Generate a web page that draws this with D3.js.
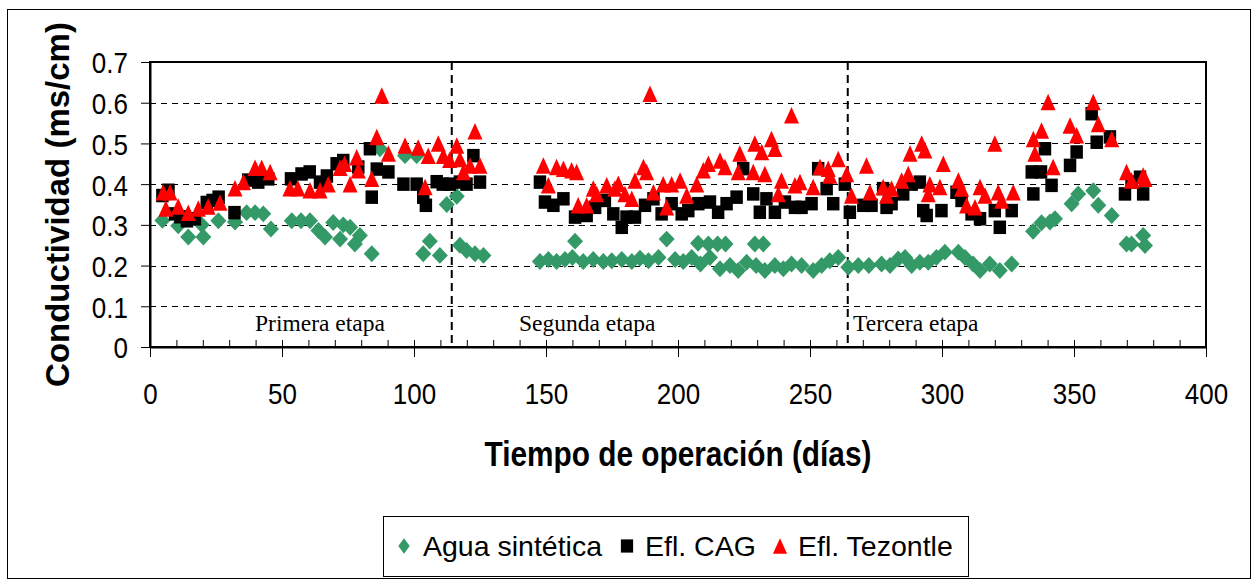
<!DOCTYPE html>
<html>
<head>
<meta charset="utf-8" />
<title>Conductividad vs tiempo de operación</title>
<script src="https://d3js.org/d3.v7.min.js"></script>
<style>
  body { margin: 0; background: #fff; }
  svg { display: block; font-family: Arial, "Liberation Sans", sans-serif; }
</style>
</head>
<body>
<svg width="1254" height="580"></svg>
<script>
// ---- data ----
const aguaDays = [4.7, 10.7, 14.5, 19.6, 20.2, 25.9, 32.2, 36.6, 39.8, 42.9, 45.8, 53.7, 57.2, 60.6, 63.8, 66.3, 69.4, 72, 73.2, 75.8, 77.6, 79.5, 84, 87.1, 96.6, 101, 103.5, 106, 109.8, 112.4, 116.2, 117.4, 119.9, 123.1, 126.3,
  147.7, 150.9, 154, 157.2, 160, 161, 164.1, 167.9, 171.7, 174.9, 178.7, 182.5, 185.6, 188.8, 192.6, 195.7, 198.9, 202, 205.2, 207.6, 208.5, 211.5, 212.1, 215, 215.9, 218, 219.7, 222.8, 226, 229.1, 229.6, 232.3, 232.9, 236.7, 239.9, 243, 246.8, 251.2, 254.4, 257.5, 260.7, 264.5,
  268.3, 272.3, 277.1, 280.3, 283.4, 286, 288.5, 291.6, 294.8, 297.9, 301.1, 306.2, 308.7, 311.8, 314.4, 318.1, 321.9, 326.4, 334.5, 337.7, 340.9, 342.8, 349.1, 351.6, 357.3, 359.2, 364.3, 369.9, 371.8, 376.2, 376.9];
const aguaValues = [0.311, 0.298, 0.27, 0.30, 0.27, 0.31, 0.307, 0.33, 0.33, 0.327, 0.29, 0.31, 0.31, 0.31, 0.286, 0.27, 0.306, 0.265, 0.30, 0.294, 0.253, 0.274, 0.229, 0.487, 0.47, 0.47, 0.229, 0.26, 0.225, 0.35, 0.37, 0.25, 0.237, 0.229, 0.225,
  0.21, 0.215, 0.21, 0.215, 0.22, 0.26, 0.21, 0.215, 0.21, 0.212, 0.215, 0.21, 0.218, 0.212, 0.22, 0.265, 0.215, 0.21, 0.22, 0.255, 0.204, 0.253, 0.22, 0.253, 0.192, 0.253, 0.20, 0.188, 0.208, 0.253, 0.20, 0.253, 0.188, 0.20, 0.192, 0.204, 0.20, 0.188, 0.20, 0.212, 0.22, 0.196,
  0.20, 0.20, 0.204, 0.20, 0.216, 0.22, 0.20, 0.208, 0.208, 0.22, 0.233, 0.233, 0.22, 0.204, 0.188, 0.204, 0.188, 0.204, 0.284, 0.305, 0.307, 0.315, 0.352, 0.376, 0.384, 0.348, 0.323, 0.253, 0.253, 0.274, 0.249];

const cagDays = [4.7, 7, 9.5, 11.5, 14, 17, 21.5, 23.7, 26, 32, 37.2, 41, 44.8, 53.4, 57.4, 60.5, 64.4, 67, 70.7, 73.2, 78.9, 83.3, 84, 85.9, 90.3, 96, 101, 103.5, 104.5, 108.6, 110.9, 113.6, 117.4, 119.9, 122.5, 125,
  147.7, 149.6, 152.8, 156.6, 161, 165.4, 168.6, 172.3, 175.5, 178.7, 180.5, 183.7, 187.5, 190.7, 193.8, 197.6, 201.4, 203.9, 207.7, 212.1, 215.2, 218.4, 222.2, 224.7, 228.5, 231, 233.5, 236.7, 240.5, 244.3, 246.8, 250.6, 253.1, 256.3, 258.8, 263.2,
  265.1, 270.2, 273.3, 277.7, 279, 280.9, 285.3, 288.5, 291.6, 292.9, 294.2, 299.8, 305.5, 307.4, 311.2, 314.4, 320, 321.9, 326.4, 334, 334.6, 337.5, 339, 341.5, 348.5, 351, 356.7, 358.6, 363.6, 369.3, 371.8, 375, 376.2];
const cagValues = [0.372, 0.385, 0.327, 0.32, 0.31, 0.315, 0.355, 0.36, 0.368, 0.33, 0.41, 0.405, 0.413, 0.413, 0.425, 0.43, 0.405, 0.42, 0.45, 0.458, 0.442, 0.487, 0.368, 0.437, 0.43, 0.40, 0.40, 0.368, 0.348, 0.406, 0.40, 0.40, 0.405, 0.40, 0.47, 0.405,
  0.405, 0.356, 0.348, 0.364, 0.319, 0.323, 0.343, 0.36, 0.327, 0.294, 0.319, 0.319, 0.348, 0.364, 0.327, 0.352, 0.327, 0.335, 0.352, 0.356, 0.331, 0.352, 0.368, 0.438, 0.376, 0.331, 0.364, 0.331, 0.356, 0.343, 0.343, 0.352, 0.438, 0.389, 0.352, 0.40,
  0.331, 0.348, 0.348, 0.389, 0.343, 0.352, 0.376, 0.40, 0.405, 0.335, 0.323, 0.335, 0.38, 0.36, 0.327, 0.315, 0.335, 0.294, 0.335, 0.43, 0.376, 0.43, 0.487, 0.397, 0.446, 0.479, 0.573, 0.503, 0.516, 0.376, 0.405, 0.417, 0.376];

const tezDays = [5, 6, 7.6, 10.7, 14.5, 18.3, 22, 26.5, 32.2, 35.4, 39.8, 42.3, 45.5, 53, 56, 60.6, 64.4, 67.5, 72, 73.7, 75.8, 78.3, 78.9, 84, 85.9, 87.8, 90.3, 96.6, 101.6, 104.2, 105.4, 109.2, 111.1, 113.5, 116.2, 117.4, 118.7, 121.2, 123.1, 125,
  149, 150.9, 154, 156.6, 159.7, 161.6, 162.2, 165.4, 167.9, 169.2, 173, 176.1, 177.4, 179.9, 182.5, 183.7, 186.9, 188.1, 189.4, 190.7, 194.4, 195.7, 197.6, 200.8, 203.3, 207.1, 209.6, 211.5, 215.9, 217.8, 222.8, 223.4, 228.5, 229.1, 231.7, 232.9, 235.4, 236.7, 238, 239.2, 243, 244.3, 246.2, 251.2, 253.8, 256.9, 257.5, 260.7, 263.9,
  265.7, 271.4, 272.7, 277.7, 279, 280.9, 284.7, 287.2, 287.9, 292.3, 293.5, 294.8, 295.4, 299.2, 300.5, 306.2, 307.4, 309.3, 312.5, 314.4, 316.3, 320, 321.3, 322.6, 327, 334.6, 335.2, 337.7, 340.2, 342.1, 348.5, 351, 357.3, 359.2, 364.3, 369.9, 371.8, 376.2, 376.9];
const tezValues = [0.38, 0.34, 0.38, 0.345, 0.33, 0.34, 0.345, 0.355, 0.39, 0.405, 0.44, 0.44, 0.43, 0.39, 0.39, 0.385, 0.385, 0.40, 0.44, 0.45, 0.40, 0.466, 0.434, 0.413, 0.516, 0.618, 0.475, 0.495, 0.49, 0.393, 0.47, 0.50, 0.47, 0.46, 0.495, 0.462, 0.43, 0.446, 0.53, 0.446,
  0.446, 0.397, 0.442, 0.438, 0.434, 0.43, 0.348, 0.348, 0.389, 0.376, 0.397, 0.389, 0.401, 0.376, 0.364, 0.409, 0.442, 0.43, 0.622, 0.38, 0.40, 0.343, 0.40, 0.409, 0.372, 0.40, 0.434, 0.45, 0.458, 0.442, 0.43, 0.475, 0.43, 0.50, 0.479, 0.425, 0.511, 0.487, 0.376, 0.409, 0.569, 0.397, 0.405, 0.393, 0.442, 0.438, 0.421, 0.462, 0.425,
  0.372, 0.446, 0.38, 0.393, 0.372, 0.389, 0.409, 0.425, 0.475, 0.50, 0.483, 0.376, 0.40, 0.393, 0.45, 0.409, 0.389, 0.348, 0.343, 0.393, 0.372, 0.50, 0.38, 0.36, 0.38, 0.511, 0.475, 0.532, 0.602, 0.442, 0.544, 0.52, 0.602, 0.548, 0.511, 0.43, 0.409, 0.421, 0.413];

const seriesNames = ["Agua sintética", "Efl. CAG", "Efl. Tezontle"];
const xTicks = [0, 50, 100, 150, 200, 250, 300, 350, 400];
const yTicks = [0, 0.1, 0.2, 0.3, 0.4, 0.5, 0.6, 0.7];
const stageBounds = [114.3, 264.3];
const stageNames = ["Primera etapa", "Segunda etapa", "Tercera etapa"];

// ---- layout ----
const SY = 1.17;   // axis text in the picture is drawn a bit taller than wide
const plot = { left: 150, right: 1206, top: 62, bottom: 347 };
const svg = d3.select("svg");

const x = d3.scaleLinear().domain([0, 400]).range([plot.left, plot.right]);
const y = d3.scaleLinear().domain([0, 0.7]).range([plot.bottom, plot.top]);

// outer frame
svg.append("rect")
  .attr("x", 7.5).attr("y", 9.5).attr("width", 1243).attr("height", 569)
  .attr("fill", "#fff").attr("stroke", "#000");

// horizontal grid
svg.append("g").selectAll("line")
  .data(yTicks.filter(v => v > 0 && v < 0.7))
  .join("line")
  .attr("x1", plot.left).attr("x2", plot.right)
  .attr("y1", d => Math.round(y(d)) + 0.5).attr("y2", d => Math.round(y(d)) + 0.5)
  .attr("stroke", "#000").attr("stroke-dasharray", "6,5");

// stage dividers
svg.append("g").selectAll("line")
  .data(stageBounds)
  .join("line")
  .attr("x1", d => x(d)).attr("x2", d => x(d))
  .attr("y1", plot.top).attr("y2", plot.bottom)
  .attr("stroke", "#000").attr("stroke-width", 2).attr("stroke-dasharray", "8,5");

// stage labels
const stageX = [255, 519, 853];
svg.append("g").selectAll("text")
  .data(stageNames)
  .join("text")
  .attr("x", (d, i) => stageX[i]).attr("y", 331)
  .attr("font-family", "'Times New Roman', 'Liberation Serif', serif")
  .attr("font-size", 23.5)
  .text(d => d);

// plot frame
svg.append("rect")
  .attr("x", plot.left).attr("y", plot.top)
  .attr("width", plot.right - plot.left).attr("height", plot.bottom - plot.top)
  .attr("fill", "none").attr("stroke", "#000").attr("stroke-width", 2);

// y axis
const yAxis = svg.append("g")
  .attr("transform", `translate(${plot.left},0)`)
  .call(d3.axisLeft(y).tickValues(yTicks).tickSize(9).tickSizeOuter(0)
    .tickFormat(d => d === 0 ? "0" : d3.format(".1f")(d)));
yAxis.select(".domain").attr("stroke-width", 2);
yAxis.selectAll("text")
  .attr("x", null).attr("dy", null)
  .attr("font-size", 26).attr("font-family", "Arial, 'Liberation Sans', sans-serif")
  .attr("transform", `translate(-22,${(0.358 * 26 * SY).toFixed(1)}) scale(1,${SY})`);

// x axis: major ticks with labels, minor ticks inside every 10 days
const xAxis = svg.append("g")
  .attr("transform", `translate(0,${plot.bottom})`)
  .call(d3.axisBottom(x).tickValues(xTicks).tickSize(10).tickSizeOuter(0));
xAxis.select(".domain").attr("stroke-width", 2);
xAxis.selectAll(".tick line").attr("y1", -6);
xAxis.selectAll("text")
  .attr("y", null).attr("dy", null)
  .attr("font-size", 26).attr("font-family", "Arial, 'Liberation Sans', sans-serif")
  .attr("transform", `translate(0,57) scale(1,${SY})`);

const xMinor = svg.append("g")
  .attr("transform", `translate(0,${plot.bottom})`)
  .call(d3.axisTop(x).tickValues(d3.range(0, 401, 10)).tickSize(7).tickSizeOuter(0).tickFormat(""));
xMinor.select(".domain").remove();

// axis titles
svg.append("text")
  .attr("transform", `translate(678,466) scale(1,${SY})`)
  .attr("text-anchor", "middle")
  .attr("font-weight", "bold").attr("font-size", 29.8)
  .text("Tiempo de operación (días)");

svg.append("text")
  .attr("transform", `translate(69,${(plot.top + plot.bottom) / 2}) rotate(-90)`)
  .attr("text-anchor", "middle")
  .attr("font-weight", "bold").attr("font-size", 33)
  .text("Conductividad (ms/cm)");

// ---- markers ----
const diamond = { draw(ctx, size) { const r = Math.sqrt(size) / 2; ctx.moveTo(0, -r * 1.06); ctx.lineTo(r, 0); ctx.lineTo(0, r * 1.06); ctx.lineTo(-r, 0); ctx.closePath(); } };
const square = { draw(ctx, size) { const s = Math.sqrt(size) / 2; ctx.rect(-s, -s * 1.08, 2 * s, 2 * s * 1.08); } };
const triangle = { draw(ctx, size) { const s = Math.sqrt(size) / 2; const h = s * 1.1; ctx.moveTo(0, -h); ctx.lineTo(s, h); ctx.lineTo(-s, h); ctx.closePath(); } };

const series = [
  { name: seriesNames[0], days: aguaDays, values: aguaValues, type: diamond, color: "#339966", size: 256, legendSize: 130 },
  { name: seriesNames[1], days: cagDays, values: cagValues, type: square, color: "#000000", size: 156, legendSize: 150 },
  { name: seriesNames[2], days: tezDays, values: tezValues, type: triangle, color: "#ff0000", size: 225, legendSize: 200 }
];

series.forEach(s => {
  const pts = s.days.map((d, i) => [d, s.values[i]]);
  svg.append("g").selectAll("path")
    .data(pts)
    .join("path")
    .attr("transform", d => `translate(${x(d[0])},${y(d[1])})`)
    .attr("d", d3.symbol().type(s.type).size(s.size))
    .attr("fill", s.color);
});

// ---- legend ----
const legend = svg.append("g");
legend.append("rect")
  .attr("x", 383.5).attr("y", 516.5).attr("width", 585).attr("height", 60)
  .attr("fill", "#fff").attr("stroke", "#000");

const legendMarkX = [404, 627, 780];
const legendTextX = [423, 645, 798];
const legendItems = legend.selectAll("g.item")
  .data(series)
  .join("g").attr("class", "item");

legendItems.append("path")
  .attr("transform", (d, i) => `translate(${legendMarkX[i]},546)` + (i === 0 ? " scale(1,1.3)" : ""))
  .attr("d", d => d3.symbol().type(d.type).size(d.legendSize)())
  .attr("fill", d => d.color);

legendItems.append("text")
  .attr("x", (d, i) => legendTextX[i]).attr("y", 556)
  .attr("font-size", 28.5)
  .text(d => d.name);
</script>
</body>
</html>
